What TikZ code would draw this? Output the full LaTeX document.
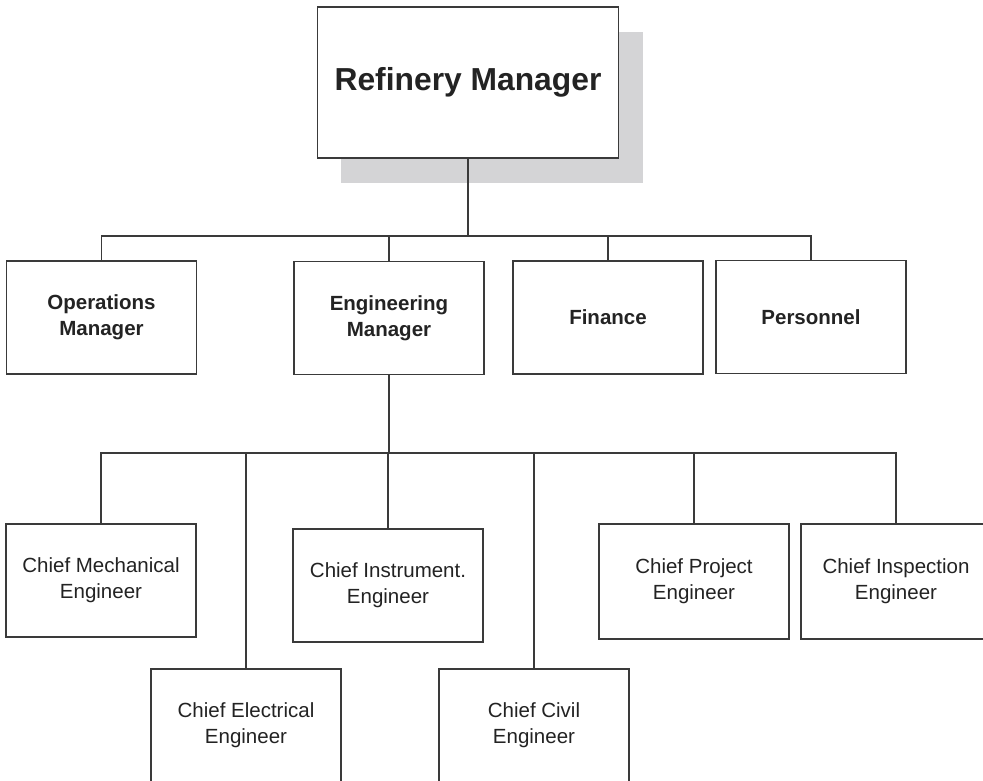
\documentclass[tikz,border=0pt]{standalone}
\usepackage{fontspec}
\setmainfont{Liberation Sans}
\definecolor{linec}{RGB}{58,58,58}
\definecolor{textc}{RGB}{35,35,35}
\definecolor{shadowc}{RGB}{212,212,214}
\begin{document}
\begin{tikzpicture}[x=1pt,y=-1pt,
  box/.style={draw=linec, line width=1.8pt, fill=white, minimum width=190pt, minimum height=113pt, inner sep=0pt, align=center, text=textc, font=\fontsize{20.5}{26}\selectfont},
  bbox/.style={box, font=\bfseries\fontsize{20.5}{26}\selectfont},
  topbox/.style={box, minimum width=301pt, minimum height=151pt, font=\bfseries\fontsize{31.8}{38}\selectfont},
  shadowbox/.style={fill=shadowc, minimum width=302pt, minimum height=151pt, inner sep=0pt},
  conn/.style={draw=linec, line width=1.8pt}]
\path[use as bounding box] (0,0) rectangle (983,781);
\clip (0,0) rectangle (983,781);
\fill[white] (0,0) rectangle (983,781);
% top
\node[shadowbox] (sh) at (492,107.5) {};
\node[topbox] (rm) at (468,82.5) {\raisebox{-3pt}{Refinery Manager}};
% level 2
\node[bbox] (ops) at (101.5,317.5) {Operations\\Manager};
\node[bbox] (eng) at (389,318) {Engineering\\Manager};
\node[bbox] (fin) at (608,317.5) {Finance};
\node[bbox] (per) at (811,317) {Personnel};
% level 3
\node[box] (mech) at (101,580.5) {Chief Mechanical\\Engineer};
\node[box] (inst) at (388,585.5) {Chief Instrument.\\Engineer};
\node[box, minimum height=115pt] (proj) at (694,581.5) {Chief Project\\Engineer};
\node[box, minimum height=115pt] (insp) at (896,581.5) {Chief Inspection\\Engineer};
\node[box] (elec) at (246,725.5) {Chief Electrical\\Engineer};
\node[box] (civ) at (534,725.5) {Chief Civil\\Engineer};
% buses
\coordinate (b2) at (0,236);
\coordinate (b3) at (0,453);
\draw[conn] (rm.south) -- (rm.south |- b2);
\draw[conn] (ops.north) -- (ops.north |- b2) -- (per.north |- b2) -- (per.north);
\draw[conn] (eng.north) -- (eng.north |- b2);
\draw[conn] (fin.north) -- (fin.north |- b2);
\draw[conn] (eng.south) -- (eng.south |- b3);
\draw[conn] (mech.north) -- (mech.north |- b3) -- (insp.north |- b3) -- (insp.north);
\draw[conn] (elec.north) -- (elec.north |- b3);
\draw[conn] (inst.north) -- (inst.north |- b3);
\draw[conn] (civ.north) -- (civ.north |- b3);
\draw[conn] (proj.north) -- (proj.north |- b3);
\end{tikzpicture}
\end{document}
